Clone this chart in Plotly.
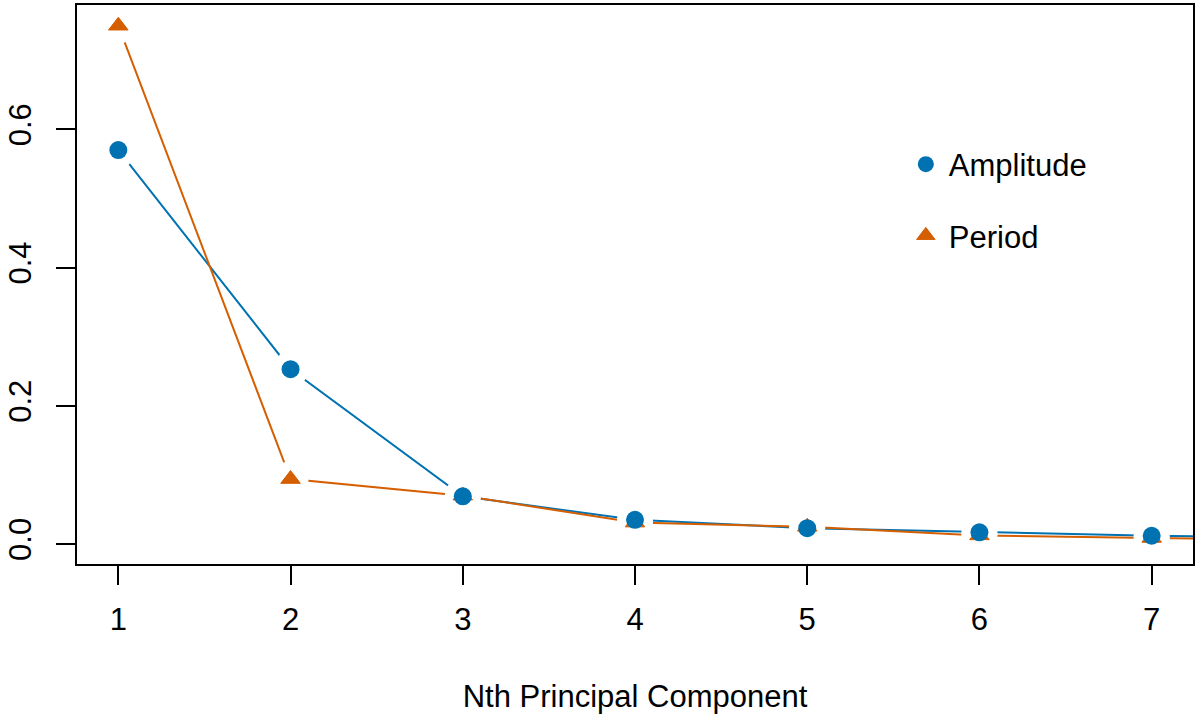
import plotly.graph_objects as go

components = [1, 2, 3, 4, 5, 6, 7, 8]
amplitude = [0.570, 0.253, 0.069, 0.035, 0.023, 0.017, 0.012, 0.009]
period = [0.750, 0.094, 0.070, 0.031, 0.025, 0.0125, 0.0087, 0.006]
x_ticks = [1, 2, 3, 4, 5, 6, 7]
y_ticks = [0.0, 0.2, 0.4, 0.6]
y_tick_labels = ["0.0", "0.2", "0.4", "0.6"]

BLUE = "#0072B2"
ORANGE = "#D55E00"
FONT = "Liberation Sans, Arial, Helvetica, sans-serif"

fig = go.Figure()

# connecting lines
fig.add_trace(go.Scatter(x=components, y=amplitude, mode="lines",
                         line=dict(color=BLUE, width=2), showlegend=False, hoverinfo="skip"))
fig.add_trace(go.Scatter(x=components, y=period, mode="lines",
                         line=dict(color=ORANGE, width=2), showlegend=False, hoverinfo="skip"))
# white halos to create the gaps of type="b"
for ys in (period, amplitude):
    fig.add_trace(go.Scatter(x=components, y=ys, mode="markers",
                             marker=dict(symbol="circle", size=36, color="white", line=dict(width=0)),
                             showlegend=False, hoverinfo="skip"))
# markers
fig.add_trace(go.Scatter(x=components, y=period, mode="markers", name="Period",
                         legendgroup="b", legendrank=2,
                         marker=dict(symbol="triangle-up", size=17, color=ORANGE,
                                     line=dict(color=ORANGE, width=1))))
fig.add_trace(go.Scatter(x=components, y=amplitude, mode="markers", name="Amplitude",
                         legendgroup="a", legendrank=1,
                         marker=dict(symbol="circle", size=18, color=BLUE, line=dict(width=0))))

axis_common = dict(showline=True, linecolor="black", linewidth=2, mirror=True,
                   ticks="outside", ticklen=19, tickwidth=2, tickcolor="black",
                   showgrid=False, zeroline=False, automargin=False,
                   tickfont=dict(family=FONT, size=31, color="black"))

fig.update_layout(
    width=1200, height=717,
    margin=dict(l=77, r=7, t=5, b=153),
    paper_bgcolor="white", plot_bgcolor="white",
    font=dict(family=FONT, size=31, color="black"),
    xaxis=dict(range=[0.76, 7.24], tickmode="array", tickvals=x_ticks,
               ticktext=[str(v) for v in x_ticks], ticklabelstandoff=8,
               title=dict(text="Nth Principal Component", font=dict(family=FONT, size=31),
                          standoff=49),
               **axis_common),
    yaxis=dict(range=[-0.0289, 0.780], tickmode="array", tickvals=y_ticks,
               ticktext=y_tick_labels, tickangle=-90, ticklabelstandoff=13,
               **axis_common),
    legend=dict(x=0.740, xanchor="left", y=0.763, yanchor="top",
                bgcolor="rgba(0,0,0,0)", borderwidth=0, itemwidth=36,
                traceorder="grouped", tracegroupgap=28,
                font=dict(family=FONT, size=31, color="black")),
)

fig.write_html("out.html", config={"displayModeBar": False},
               post_script="document.body.style.margin='0';document.body.style.padding='0';")
